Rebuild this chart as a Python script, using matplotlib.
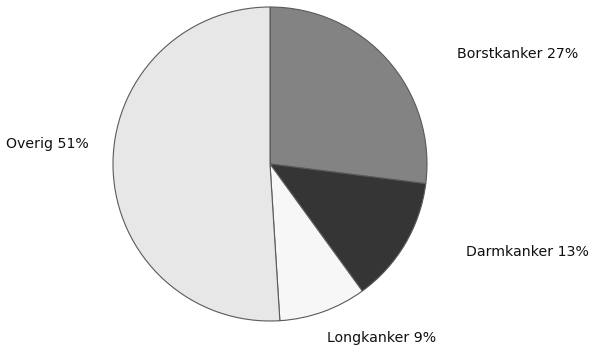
import numpy as np
from matplotlib import pyplot as plt

labels = ['Borstkanker', 'Darmkanker', 'Longkanker', 'Overig']
percentages = [27, 13, 9, 51]
colors = ['#838383', '#353535', '#f7f7f7', '#e7e7e7']

# label positions in data units (pie radius = 1)
label_pos = [(1.58, 0.70), (1.64, -0.56), (0.71, -1.11), (-1.42, 0.13)]

W, H = 593, 351
fig = plt.figure(figsize=(W / 100, H / 100), dpi=100)

cx, cy, r = 270, 164, 157
ax = fig.add_axes([(cx - r) / W, (H - cy - r) / H, 2 * r / W, 2 * r / H])

ax.pie(percentages, colors=colors, startangle=90, counterclock=False, radius=1,
       wedgeprops=dict(edgecolor='#5a5a5a', linewidth=0.8))

for lab, pct, (x, y) in zip(labels, percentages, label_pos):
    ax.text(x, y, f'{lab} {pct}%', ha='center', va='center', fontsize=10.2,
            family='DejaVu Sans', color='#111111', clip_on=False)

ax.set_xlim(-1, 1)
ax.set_ylim(-1, 1)
ax.set_aspect('equal')
ax.axis('off')

fig.savefig('out.png', dpi=100)
